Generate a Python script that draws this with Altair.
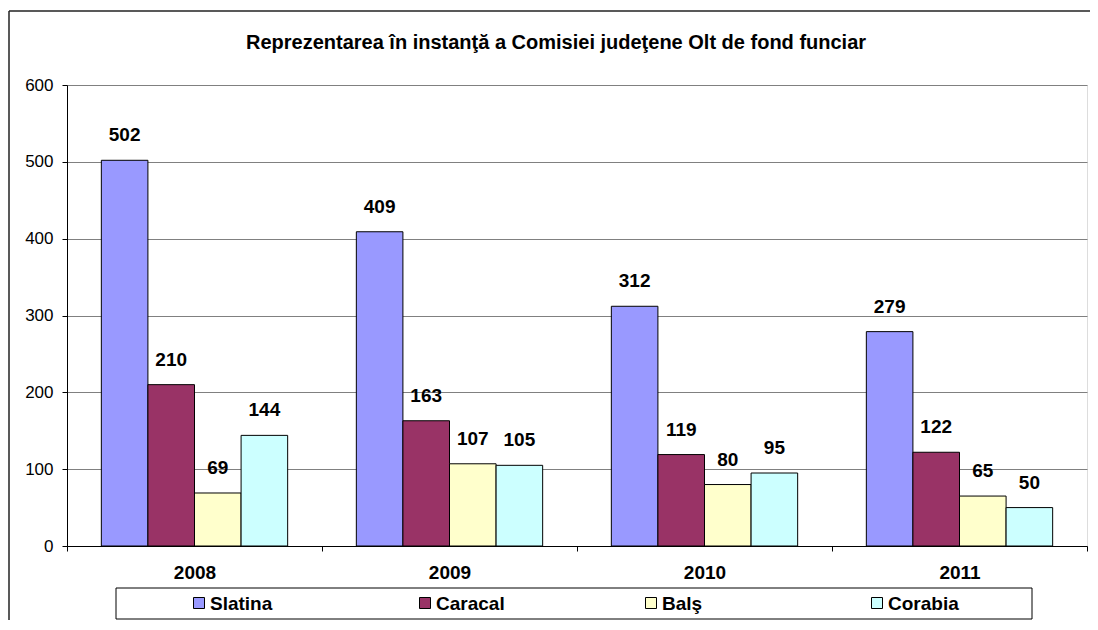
import altair as alt
import pandas as pd

# ---- data ----
years = ["2008", "2009", "2010", "2011"]
series = ["Slatina", "Caracal", "Balş", "Corabia"]
slatina = [502, 409, 312, 279]
caracal = [210, 163, 119, 122]
bals = [69, 107, 80, 65]
corabia = [144, 105, 95, 50]
colors = ["#9999FF", "#993366", "#FFFFCC", "#CCFFFF"]
y_ticks = [0, 100, 200, 300, 400, 500, 600]
title_text = "Reprezentarea în instanţă a Comisiei judeţene Olt de fond funciar"

FONT = "Liberation Sans"
W, H = 1020, 461
PAD = {"left": 59, "top": 77, "right": 3, "bottom": 74}

rows = []
for s, vals in zip(series, [slatina, caracal, bals, corabia]):
    for yr, v in zip(years, vals):
        rows.append({"year": yr, "series": s, "value": v})
df = pd.DataFrame(rows)
legend_df = pd.DataFrame({"series": series})
title_df = pd.DataFrame({"t": [title_text]})
one = pd.DataFrame({"k": [0]})

x_enc = alt.X(
    "year:N", sort=years,
    scale=alt.Scale(paddingInner=0, paddingOuter=0),
    axis=alt.Axis(title=None, labelAngle=0, labelFont=FONT, labelFontSize=19,
                  labelFontWeight="bold", labelColor="black", labelPadding=12,
                  tickBand="extent", tickColor="black", tickSize=5,
                  domainColor="black", grid=False),
)
xoff_enc = alt.XOffset("series:N", sort=series,
                       scale=alt.Scale(domain=series, paddingOuter=0.737, paddingInner=0))
y_enc = alt.Y(
    "value:Q",
    scale=alt.Scale(domain=[0, 600], nice=False),
    axis=alt.Axis(title=None, values=y_ticks, labelFont=FONT, labelFontSize=17,
                  labelColor="black", labelPadding=9, tickColor="black", tickSize=5,
                  domainColor="black", grid=True, gridColor="#808080", gridWidth=1),
)
color_enc = alt.Color("series:N", sort=series,
                      scale=alt.Scale(domain=series, range=colors), legend=None)

bars = alt.Chart(df).mark_bar(stroke="black", strokeWidth=1).encode(
    x=x_enc, xOffset=xoff_enc, y=y_enc, color=color_enc
)
labels = alt.Chart(df).mark_text(
    font=FONT, fontSize=19, fontWeight="bold", color="black",
    baseline="middle", dy=-25
).encode(x=x_enc, xOffset=xoff_enc, y=alt.Y("value:Q"), text="value:Q")

main = alt.layer(bars, labels)

leg_x = alt.X("series:N", sort=series,
              scale=alt.Scale(type="point", domain=series, range=[132, 810], padding=0),
              axis=None)
leg_box = alt.Chart(one).mark_rect(fill="transparent", stroke="black", strokeWidth=1).encode(
    x=alt.value(49), x2=alt.value(965), y=alt.value(H + 42), y2=alt.value(H + 73)
)
leg_sq = alt.Chart(legend_df).mark_square(size=121, stroke="black", strokeWidth=1,
                                           opacity=1, filled=True).encode(
    x=leg_x, y=alt.value(H + 57), color=color_enc
)
leg_tx = alt.Chart(legend_df).mark_text(
    font=FONT, fontSize=19, fontWeight="bold", color="black",
    align="left", baseline="middle", dx=11
).encode(x=leg_x, y=alt.value(H + 58), text="series:N")
legend_layer = alt.layer(leg_box, leg_sq, leg_tx)

title_mark = alt.Chart(title_df).mark_text(
    font=FONT, fontSize=20, fontWeight="bold", color="black",
    align="center", baseline="middle"
).encode(x=alt.value(W / 2 - 21), y=alt.value(-42), text="t:N")

frame_left = alt.Chart(one).mark_rule(color="#222222", strokeWidth=1.5).encode(
    x=alt.value(-58), y=alt.value(-74), y2=alt.value(H + PAD["bottom"])
)
frame_top = alt.Chart(one).mark_rule(color="#222222", strokeWidth=1.5).encode(
    x=alt.value(-58), x2=alt.value(W + PAD["right"]), y=alt.value(-74)
)

chart = alt.layer(main, legend_layer, title_mark, frame_left, frame_top).resolve_scale(
    x="independent"
).properties(
    width=W, height=H,
    autosize=alt.AutoSizeParams(type="none"),
    padding=PAD,
).configure_view(stroke="#808080", strokeWidth=1).configure(background="white")

chart.save("out.html", embed_options={"renderer": "svg", "actions": False})
